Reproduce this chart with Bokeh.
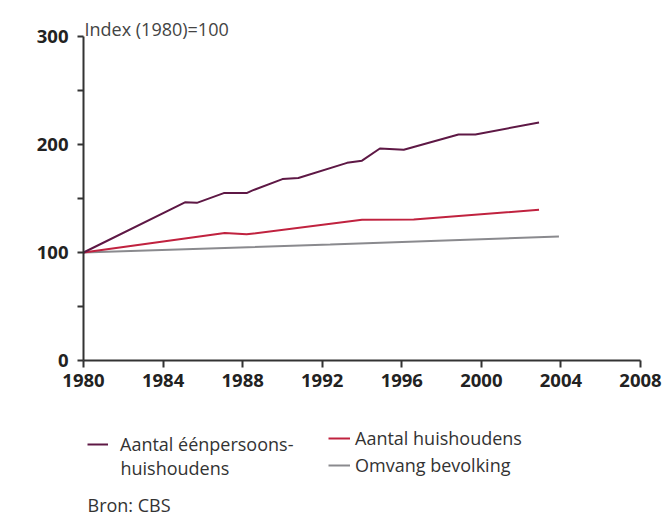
from bokeh.plotting import figure
from bokeh.layouts import column
from bokeh.models import Range1d, FixedTicker, Legend, LegendItem, Label
from bokeh.embed import file_html
from bokeh.resources import INLINE

# data
years_single = [1980, 1985.1, 1985.7, 1987.05, 1988.2, 1988.5, 1990.0, 1990.8, 1993.25, 1994.0, 1994.9, 1996.1, 1998.85, 1999.7, 2002.9]
single = [100, 146.5, 146, 155, 155, 157.5, 168, 169, 183, 185, 196.3, 195.2, 209.3, 209.3, 220.4]
years_hh = [1980, 1987.1, 1988.2, 1994.0, 1996.6, 2002.9]
households = [100, 118, 116.8, 130.3, 130.6, 139.5]
years_pop = [1980, 1992.4, 2003.9]
population = [100, 107.4, 114.8]

x_ticks = [1980, 1984, 1988, 1992, 1996, 2000, 2004, 2008]
y_ticks = [0, 100, 200, 300]
y_minor = [50, 150, 250]

PURPLE = "#5e1845"
RED = "#c0223f"
GRAY = "#8a8a8e"
TXT = "#333333"
FONT = "Open Sans"
NAN = float("nan")

# frame covers page y 0..360 ; value 300 sits 36px below the top
p = figure(width=662, height=400, output_backend="svg", toolbar_location=None,
           x_range=Range1d(1980, 2008), y_range=Range1d(0, 300 + 36 / 1.08),
           min_border_left=83, min_border_right=22, min_border_top=0, min_border_bottom=40)
p.outline_line_color = None
p.grid.visible = False

for ax in (p.xaxis[0], p.yaxis[0]):
    ax.axis_line_width = 2
    ax.axis_line_color = TXT
    ax.major_tick_line_width = 2
    ax.major_tick_line_color = TXT
    ax.minor_tick_line_width = 2
    ax.minor_tick_line_color = TXT
    ax.major_tick_in = 0
    ax.minor_tick_in = 0
    ax.major_label_text_font = FONT
    ax.major_label_text_font_style = "bold"
    ax.major_label_text_font_size = "18.5px"
    ax.major_label_text_color = "#222222"

p.xaxis.ticker = FixedTicker(ticks=x_ticks)
p.xaxis.major_tick_out = 7
p.xaxis.minor_tick_out = 0
p.xaxis.major_label_standoff = 6
p.yaxis.ticker = FixedTicker(ticks=y_ticks, minor_ticks=y_minor)
p.yaxis.bounds = (0, 300)
p.yaxis.major_tick_out = 6
p.yaxis.minor_tick_out = 6
p.yaxis.major_label_standoff = 9

p.line(years_pop, population, line_color=GRAY, line_width=2)
p.line(years_hh, households, line_color=RED, line_width=2)
p.line(years_single, single, line_color=PURPLE, line_width=2)

p.add_layout(Label(x=1, y=332, x_units="screen", y_units="screen", text="Index (1980)=100",
                   text_font=FONT, text_font_size="18px", text_color="#444444",
                   text_baseline="alphabetic"))

# legend / source panel (page y 400..517), frame aligned with the chart frame
q = figure(width=662, height=117, output_backend="svg", toolbar_location=None,
           x_range=Range1d(0, 1), y_range=Range1d(0, 1), x_axis_type=None, y_axis_type=None,
           min_border_left=83, min_border_right=22, min_border_top=0, min_border_bottom=0)
q.outline_line_color = None
q.grid.visible = False
# invisible stand-ins so the legend can draw its swatches
s_single = q.line([NAN], [NAN], line_color=PURPLE, line_width=2)
s_hh = q.line([NAN], [NAN], line_color=RED, line_width=2)
s_pop = q.line([NAN], [NAN], line_color=GRAY, line_width=2)

def mk_legend(items, x, y, standoff, gw):
    lg = Legend(items=items, location=(x, y), orientation="vertical",
                border_line_color=None, background_fill_alpha=0,
                padding=0, margin=0, spacing=3, label_standoff=standoff,
                glyph_width=gw, glyph_height=20, label_height=20,
                label_text_font=FONT, label_text_font_size="18px",
                label_text_color=TXT, label_text_baseline="middle")
    q.add_layout(lg, "center")

mk_legend([LegendItem(label="Aantal éénpersoons-", renderers=[s_single])], 4, 61, 12, 21)
mk_legend([LegendItem(label="Aantal huishoudens", renderers=[s_hh]),
           LegendItem(label="Omvang bevolking", renderers=[s_pop])], 245, 40, 5, 22)

q.add_layout(Label(x=37, y=50, x_units="screen", y_units="screen", text="huishoudens",
                   text_font=FONT, text_font_size="18px", text_color=TXT, text_baseline="middle"))
q.add_layout(Label(x=4, y=13, x_units="screen", y_units="screen", text="Bron: CBS",
                   text_font=FONT, text_font_size="18px", text_color=TXT, text_baseline="middle"))

open("out.html", "w").write(file_html(column(p, q), INLINE))
